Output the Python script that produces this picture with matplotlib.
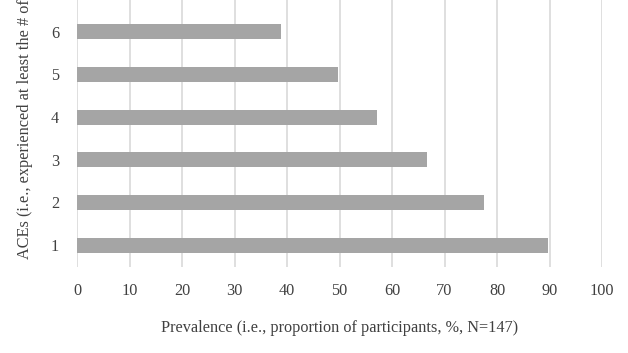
import matplotlib
matplotlib.use("Agg")
import matplotlib.pyplot as plt

categories = ["1", "2", "3", "4", "5", "6"]
prevalence = [89.8, 77.55, 66.67, 57.14, 49.66, 38.78]
xticks = [0, 10, 20, 30, 40, 50, 60, 70, 80, 90, 100]

plt.rcParams['font.family'] = ['Liberation Serif', 'DejaVu Serif']

W, H = 628, 353
fig = plt.figure(figsize=(W/100, H/100), dpi=100)
left, right = 77/W, 602/W
bottom = 1 - 266.5/H
ax = fig.add_axes([left, bottom, right-left, 1-bottom])

ypos = list(range(1, len(categories)+1))
ax.barh(ypos, prevalence, height=0.35, color='#A5A5A5', zorder=3)
ax.set_xlim(0, 100)
ax.set_ylim(0.5, 6.745)
ax.set_xticks(xticks)
ax.set_xticklabels([str(t) for t in xticks], fontsize=11.7, color='#404040')
ax.set_yticks(ypos)
ax.set_yticklabels(categories, fontsize=11.7, color='#404040')
ax.tick_params(axis='both', length=0)
ax.tick_params(axis='x', pad=12)
ax.tick_params(axis='y', pad=13)
ax.grid(axis='x', color='#D9D9D9', linewidth=1.2, zorder=0)
for s in ax.spines.values():
    s.set_visible(False)

fig.text(339.5/W, 1-328.3/H, "Prevalence (i.e., proportion of participants, %, N=147)",
         ha='center', va='center', fontsize=11.7, color='#404040')
fig.text(25/W, 1-259/H, "ACEs (i.e., experienced at least the # of",
         ha='center', va='bottom', rotation=90, fontsize=11.7, color='#404040')

fig.savefig("out.png", dpi=100)
